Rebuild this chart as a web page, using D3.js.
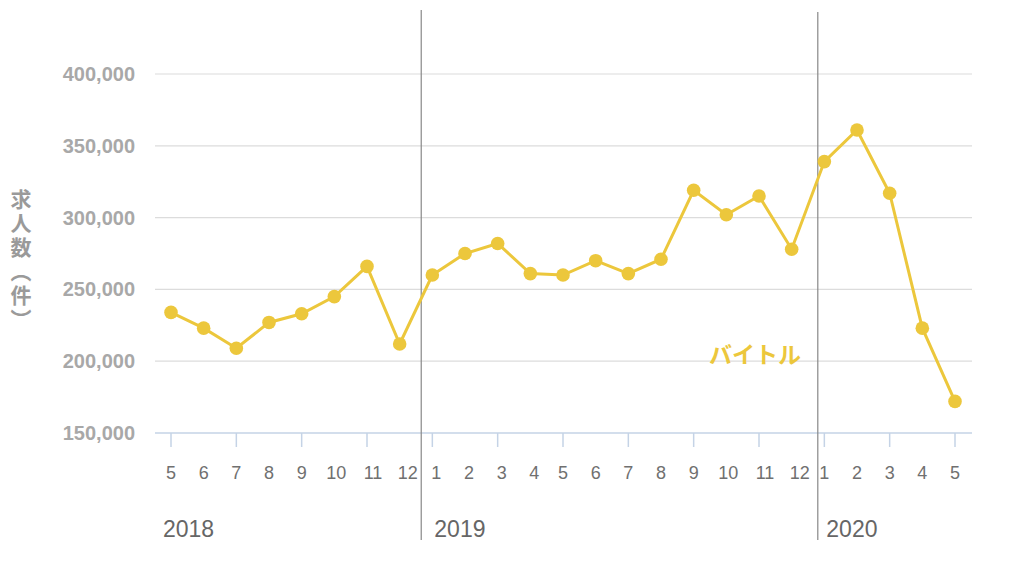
<!DOCTYPE html>
<html><head><meta charset="utf-8">
<script src="https://cdn.jsdelivr.net/npm/d3@7"></script>
<style>body{margin:0;background:#fff;}svg{display:block;}</style>
</head><body>
<svg id="c" width="1024" height="568"></svg>
<script>
const months = [5,6,7,8,9,10,11,12,1,2,3,4,5,6,7,8,9,10,11,12,1,2,3,4,5];
const values = [234000,223000,209000,227000,233000,245000,266000,212000,260000,275000,282000,261000,260000,270000,261000,271000,319000,302000,315000,278000,339000,361000,317000,223000,172000];
const years = ["2018","2019","2020"];
const yearStartIdx = [0,8,20];
const yTicks = [150000,200000,250000,300000,350000,400000];
const seriesName = "バイトル";
const yTitle = "求人数（件）";

const svg = d3.select("#c");
const x = d3.scaleLinear().domain([0, values.length-1]).range([171, 955]);
const y = d3.scaleLinear().domain([150000, 400000]).range([433, 74]);
const color = "#ecc73c";

// gridlines
svg.append("g").selectAll("line").data(yTicks.slice(1)).join("line")
  .attr("x1",155).attr("x2",972).attr("y1",d=>y(d)).attr("y2",d=>y(d))
  .attr("stroke","#dcdcdc").attr("stroke-width",1.2);

// y labels
svg.append("g").selectAll("text").data(yTicks).join("text")
  .attr("x",135).attr("y",d=>y(d)+7).attr("text-anchor","end")
  .attr("font-family","Liberation Sans, Arial, sans-serif").attr("font-size",20).attr("font-weight","bold")
  .attr("fill","#a8a8a8").text(d=>d3.format(",")(d));

// y title (vertical)
svg.append("text")
  .attr("x",21).attr("y",189)
  .style("writing-mode","vertical-rl")
  .attr("font-family","Noto Sans CJK JP, sans-serif").attr("font-size",21).attr("font-weight","bold")
  .attr("letter-spacing",3)
  .attr("fill","#9a9a9a").text(yTitle);

// x axis line
svg.append("line").attr("x1",155).attr("x2",972).attr("y1",433).attr("y2",433)
  .attr("stroke","#c5d3e6").attr("stroke-width",1.5);
svg.append("g").selectAll("line").data(d3.range(0, values.length, 2)).join("line")
  .attr("x1",d=>x(d)).attr("x2",d=>x(d)).attr("y1",433).attr("y2",447)
  .attr("stroke","#c5d3e6").attr("stroke-width",1.5);

// month labels
svg.append("g").selectAll("text").data(months).join("text")
  .attr("x",(d,i)=>x(i)+(d>=10? (d===10?2:d===11?6:8) : (d<=4 && i>=8 && i<12 ? 4:0)))
  .attr("y",479).attr("text-anchor","middle")
  .attr("font-family","Liberation Sans, Arial, sans-serif").attr("font-size",18)
  .attr("fill","#707070").text(d=>d);

// year labels
svg.append("g").selectAll("text").data(years).join("text")
  .attr("x",(d,i)=>x(yearStartIdx[i]) + (i===0?-8:2)).attr("y",537)
  .attr("font-family","Liberation Sans, Arial, sans-serif").attr("font-size",23)
  .attr("fill","#666").text(d=>d);

// year separators
const sepPos = [7.66, 19.8];
svg.append("g").selectAll("line").data(sepPos).join("line")
  .attr("x1",d=>x(d)).attr("x2",d=>x(d)).attr("y1",(d,i)=>i===0?10:12).attr("y2",540)
  .attr("stroke","#888").attr("stroke-width",1.2);

// line
svg.append("path").datum(values)
  .attr("d", d3.line().x((d,i)=>x(i)).y(d=>y(d)))
  .attr("fill","none").attr("stroke",color).attr("stroke-width",3);
svg.append("g").selectAll("circle").data(values).join("circle")
  .attr("cx",(d,i)=>x(i)).attr("cy",d=>y(d)).attr("r",6.8).attr("fill",color);

// series label
svg.append("text").attr("x",709).attr("y",363)
  .attr("font-family","Noto Sans CJK JP, sans-serif").attr("font-size",23).attr("font-weight","bold")
  .attr("fill",color).text(seriesName);
</script>
</body></html>
